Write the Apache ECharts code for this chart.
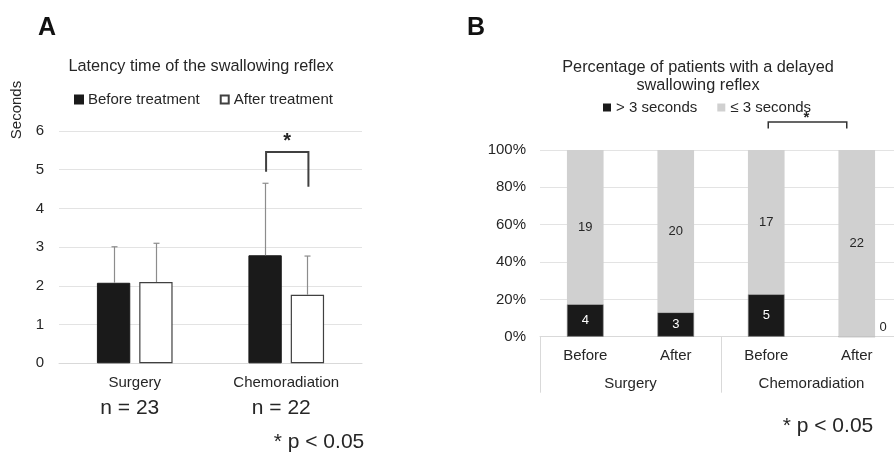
<!DOCTYPE html>
<html><head><meta charset="utf-8">
<script src="https://cdn.jsdelivr.net/npm/echarts@6/dist/echarts.min.js"></script>
<style>html,body{margin:0;padding:0;background:#fff}#c{width:894px;height:453px}</style>
</head><body><div id="c"></div>
<script>
// ---- Panel A data ----
const groupsA = ['Surgery', 'Chemoradiation'];
const beforeMean = [2.08, 2.79];
const afterMean = [2.10, 1.77];
const beforeUpper = [3.01, 4.65];   // mean + SD (upper whisker)
const afterUpper = [3.10, 2.77];
const groupN = ['n = 23', 'n = 22'];
const yTicksA = [0, 6, 1]; // min, max, interval

// ---- Panel B data ----
const phasesB = ['Before', 'After', 'Before', 'After'];
const groupsB = ['Surgery', 'Chemoradiation'];
const over3 = [4, 3, 5, 0];
const under3 = [19, 20, 17, 22];

const FONT = '"Liberation Sans", Arial, sans-serif';
const TXT = '#262626';

const totals = over3.map((v, i) => v + under3[i]);
const overData = over3.map((v, i) => {
  const d = { value: v / totals[i] * 100, count: v };
  if (v === 0) d.label = { position: 'right', distance: 4, offset: [0, -9], color: TXT };
  return d;
});
const underData = under3.map((v, i) => ({ value: v / totals[i] * 100, count: v }));

const BW = 0.22, BG = 0.27;
function errSeries(means, uppers, sign) {
  return {
    type: 'custom', xAxisIndex: 0, yAxisIndex: 0, z: 3, silent: true,
    data: means.map((m, i) => [i, m, uppers[i]]),
    renderItem(params, api) {
      const band = api.size([1, 0])[0];
      const off = sign * band * BW * (1 + BG) / 2;
      const p0 = api.coord([api.value(0), api.value(1)]);
      const p1 = api.coord([api.value(0), api.value(2)]);
      const x = Math.round(p0[0] + off) + 0.5;
      const st = { stroke: '#8c8c8c', lineWidth: 1.2 };
      return { type: 'group', children: [
        { type: 'line', shape: { x1: x, y1: p0[1], x2: x, y2: p1[1] }, style: st },
        { type: 'line', shape: { x1: x - 3, y1: p1[1], x2: x + 3, y2: p1[1] }, style: st }
      ]};
    }
  };
}

const chart = echarts.init(document.getElementById('c'));
const option = {
  animation: false,
  textStyle: { fontFamily: FONT },
  grid: [
    { left: 59, top: 131, width: 303, height: 232.3, outerBoundsMode: 'none', containLabel: false },
    { left: 540, top: 150, width: 362, height: 186.7, outerBoundsMode: 'none', containLabel: false }
  ],
  legend: [
    { left: 74, top: 92, padding: 0, itemWidth: 8, itemHeight: 8, itemGap: 20, icon: 'rect',
      data: ['Before treatment', 'After treatment'],
      textStyle: { fontSize: 15, color: TXT, fontFamily: FONT } },
    { left: 603, top: 100, padding: 0, itemWidth: 8, itemHeight: 8, itemGap: 20, icon: 'rect',
      data: [{ name: '> 3 seconds', itemStyle: { borderWidth: 0 } }, { name: '≤ 3 seconds' }],
      textStyle: { fontSize: 15, color: TXT, fontFamily: FONT } }
  ],
  xAxis: [
    { gridIndex: 0, type: 'category', data: groupsA,
      axisLine: { lineStyle: { color: '#d9d9d9' } }, axisTick: { show: false },
      axisLabel: { margin: 12, fontSize: 15, color: TXT, fontFamily: FONT } },
    { gridIndex: 1, type: 'category', data: phasesB,
      axisLine: { lineStyle: { color: '#d9d9d9' } }, axisTick: { show: false },
      axisLabel: { margin: 12, fontSize: 15, color: TXT, fontFamily: FONT } },
    { gridIndex: 1, type: 'category', data: groupsB, position: 'bottom',
      axisLine: { show: false },
      axisTick: { show: true, length: 56, lineStyle: { color: '#d9d9d9' } },
      axisLabel: { margin: 40, fontSize: 15, color: TXT, fontFamily: FONT } }
  ],
  yAxis: [
    { gridIndex: 0, type: 'value', min: yTicksA[0], max: yTicksA[1], interval: yTicksA[2],
      axisLine: { show: false }, axisTick: { show: false },
      splitLine: { lineStyle: { color: '#e3e3e3' } },
      axisLabel: { margin: 15, fontSize: 15, color: TXT, fontFamily: FONT } },
    { gridIndex: 1, type: 'value', min: 0, max: 100, interval: 20,
      axisLine: { show: false }, axisTick: { show: false },
      splitLine: { lineStyle: { color: '#e3e3e3' } },
      axisLabel: { margin: 14, fontSize: 15, color: TXT, fontFamily: FONT, formatter: '{value}%' } }
  ],
  series: [
    { name: 'Before treatment', type: 'bar', xAxisIndex: 0, yAxisIndex: 0, data: beforeMean,
      barWidth: (BW * 100) + '%', barGap: (BG * 100) + '%',
      itemStyle: { color: '#1a1a1a', borderColor: '#1a1a1a', borderWidth: 1 } },
    { name: 'After treatment', type: 'bar', xAxisIndex: 0, yAxisIndex: 0, data: afterMean,
      barWidth: (BW * 100) + '%', barGap: (BG * 100) + '%',
      itemStyle: { color: '#ffffff', borderColor: '#404040', borderWidth: 1.2 } },
    errSeries(beforeMean, beforeUpper, -1),
    errSeries(afterMean, afterUpper, 1),
    { name: '> 3 seconds', type: 'bar', stack: 'b', xAxisIndex: 1, yAxisIndex: 1, data: overData,
      barWidth: '40.5%',
      itemStyle: { color: '#1a1a1a', borderColor: '#8c8c8c', borderWidth: 0.6 },
      label: { show: true, position: 'inside', color: '#ffffff', fontSize: 13, fontFamily: FONT,
        formatter: p => String(p.data.count) } },
    { name: '≤ 3 seconds', type: 'bar', stack: 'b', xAxisIndex: 1, yAxisIndex: 1, data: underData,
      barWidth: '40.5%',
      itemStyle: { color: '#d0d0d0' },
      label: { show: true, position: 'inside', color: TXT, fontSize: 13, fontFamily: FONT,
        formatter: p => String(p.data.count) } }
  ]
};
chart.setOption(option);

// ---- annotations computed from the axes ----
function px(grid, pt) { return chart.convertToPixel({ gridIndex: grid }, pt); }
function txt(x, y, text, size, opts) {
  return Object.assign({ type: 'text', x: x, y: y, z: 100,
    style: Object.assign({ text: text, font: (opts && opts.weight ? opts.weight + ' ' : '') + size + 'px ' + FONT,
      fill: TXT, align: 'center', verticalAlign: 'middle', textAlign: 'center', textVerticalAlign: 'middle' }, (opts && opts.style) || {}) },
    (opts && opts.el) || {});
}
const graphics = [];
graphics.push(txt(47, 28, 'A', 25, { weight: 'bold', style: { fill: '#111' } }));
graphics.push(txt(476, 28, 'B', 25, { weight: 'bold', style: { fill: '#111' } }));
graphics.push(txt(201, 67, 'Latency time of the swallowing reflex', 16.3));
graphics.push(txt(698, 68, 'Percentage of patients with a delayed', 16.3));
graphics.push(txt(698, 86, 'swallowing reflex', 16.3));
graphics.push(txt(17, 110, 'Seconds', 15, { el: { rotation: Math.PI / 2 } }));

// n labels under groups
groupsA.forEach((g, i) => {
  const p = px(0, [i, 0]);
  graphics.push(txt(p[0] - 5, 408, groupN[i], 21));
});
graphics.push(txt(319, 442, '* p < 0.05', 21));
graphics.push(txt(828, 426, '* p < 0.05', 21));

// bracket A (between chemoradiation bars)
{
  const band = chart.getModel().getComponent('xAxis', 0).axis.getBandWidth();
  const off = band * BW * (1 + BG) / 2;
  const c = px(0, [1, 5.46]);
  const l = px(0, [1, 4.95]);
  const r = px(0, [1, 4.56]);
  const xl = c[0] - off + 1, xr = c[0] + off + 1;
  graphics.push({ type: 'polyline', z: 100,
    shape: { points: [[xl, l[1]], [xl, c[1]], [xr, c[1]], [xr, r[1]]] },
    style: { stroke: '#404040', lineWidth: 2, fill: null } });
  graphics.push(txt((xl + xr) / 2, c[1] - 10, '*', 20, { weight: 'bold' }));
}
// bracket B (between chemoradiation before/after)
{
  const a = px(1, [2, 115]);
  const b = px(1, [3, 111.5]);
  const xl = a[0] + 2, xr = b[0] - 10;
  graphics.push({ type: 'polyline', z: 100,
    shape: { points: [[xl, b[1]], [xl, a[1]], [xr, a[1]], [xr, b[1]]] },
    style: { stroke: '#333', lineWidth: 1.5, fill: null } });
  graphics.push(txt((xl + xr) / 2 - 1, a[1] - 4, '*', 15, { weight: 'bold' }));
}
chart.setOption({ graphic: graphics });
</script>
</body></html>
